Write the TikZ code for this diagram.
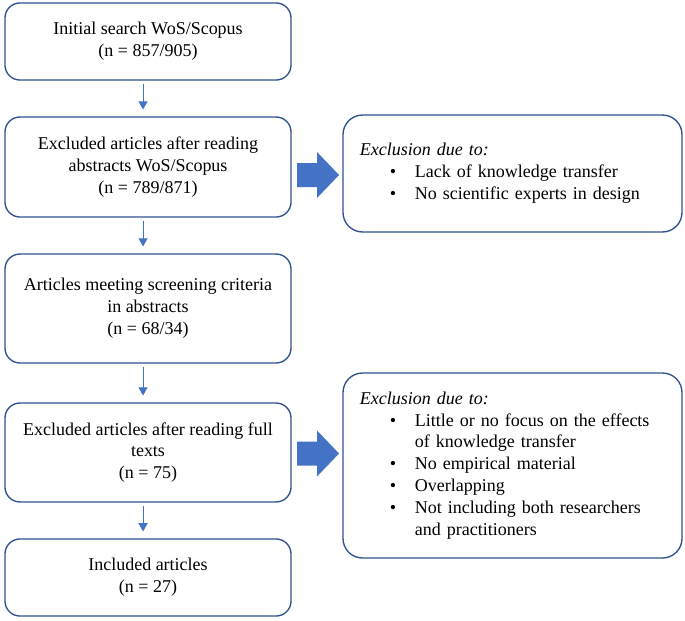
\documentclass[tikz,border=0pt]{standalone}
\usepackage{fontspec}
\setmainfont{Liberation Serif}
\usepackage{xcolor}
\usetikzlibrary{positioning,arrows.meta,calc}
\definecolor{boxline}{HTML}{2F528F}
\definecolor{arrowblue}{HTML}{4472C4}
% block arrow centred on a point, sizes in px
\newcommand{\blockarrow}[1]{%
  \fill[arrowblue] ($(#1)+(-21,-12)$) -- ++(20,0) -- ++(0,-11) -- ++(22,23)
    -- ++(-22,23) -- ++(0,-11) -- ++(-20,0) -- cycle;}
\newcommand{\excl}{\textit{Exclusion due to:}}

\begin{document}
\begin{tikzpicture}[
  x=0.667pt,y=-0.667pt,
  every node/.style={font=\fontsize{12}{14.6}\selectfont,align=center},
  box/.style={draw=boxline,line width=0.9pt,rounded corners=10pt,
    minimum width=190.8pt,inner sep=0pt,outer sep=0pt},
  rbox/.style={draw=boxline,line width=0.9pt,rounded corners=13pt,
    minimum width=226.1pt,text width=203.5pt,align=left,inner xsep=11.3pt,
    inner ysep=0pt,outer sep=0pt},
  arr/.style={-{Triangle[width=6pt,length=5.5pt]},draw=arrowblue,fill=arrowblue,
    line width=0.7pt,shorten <=2.5pt,shorten >=5pt}
]
  \useasboundingbox (0,0) rectangle (685,620);

  \node[box,minimum height=51.4pt] (search) at (148,41.5)
    {Initial search WoS/Scopus\\(n = 857/905)};
  \node[box,minimum height=66.7pt] (abstr) at (148,167)
    {Excluded articles after reading\\abstracts WoS/Scopus\\(n = 789/871)};
  \node[box,minimum height=72.7pt] (screen) at (148,308.5)
    {Articles meeting screening criteria\\in abstracts\\(n = 68/34)};
  \node[box,minimum height=66pt] (full) at (148,452.5)
    {Excluded articles after reading full\\texts\\(n = 75)};
  \node[box,minimum height=51.4pt] (incl) at (148,577.5)
    {Included articles\\(n = 27)};

  \node[rbox,minimum height=78pt] (why1) at (512.5,173.5)
    {\begin{tabular}{@{\hspace{19.9pt}}l@{\hspace{12.6pt}}l@{}}
      \multicolumn{2}{@{}l}{\excl}\\
      \textbullet & Lack of knowledge transfer\\
      \textbullet & No scientific experts in design
    \end{tabular}};
  \node[rbox,minimum height=123.4pt] (why2) at (512.5,465.5)
    {\begin{tabular}{@{\hspace{19.9pt}}l@{\hspace{12.6pt}}l@{}}
      \multicolumn{2}{@{}l}{\excl}\\
      \textbullet & Little or no focus on the effects\\
       & of knowledge transfer\\
      \textbullet & No empirical material\\
      \textbullet & Overlapping\\
      \textbullet & Not including both researchers\\
       & and practitioners
    \end{tabular}};

  \draw[arr] ([xshift=-3.3pt]search.south) -- ([xshift=-3.3pt]abstr.north);
  \draw[arr] ([xshift=-3.3pt]abstr.south) -- ([xshift=-3.3pt]screen.north);
  \draw[arr] ([xshift=-3.3pt]screen.south) -- ([xshift=-3.3pt]full.north);
  \draw[arr] ([xshift=-3.3pt]full.south) -- ([xshift=-3.3pt]incl.north);

  \coordinate (ba1) at ($(abstr.east)+(27,8)$);
  \coordinate (ba2) at ($(full.east)+(27,1)$);
  \blockarrow{ba1}
  \blockarrow{ba2}
\end{tikzpicture}
\end{document}
